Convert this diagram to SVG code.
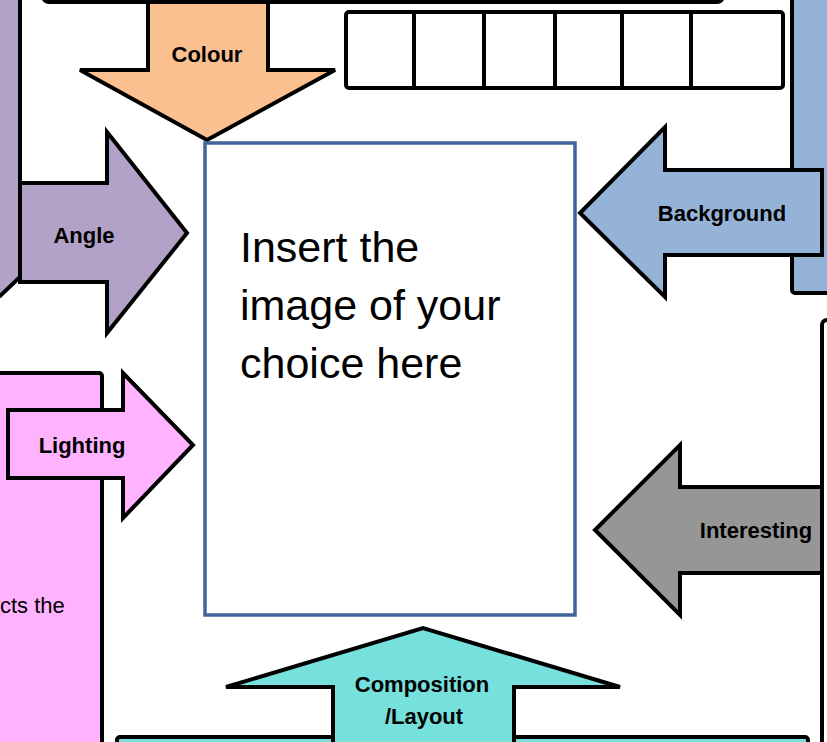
<svg xmlns="http://www.w3.org/2000/svg" width="827" height="742" viewBox="0 0 827 742">
<style>
.shape{stroke:#000;stroke-width:4;stroke-linejoin:miter}
.lbl{font-family:"Liberation Sans",Arial,sans-serif;font-weight:bold;font-size:22px;fill:#000;text-anchor:middle}
.purple{fill:#b3a2c7}.orange{fill:#fac090}.blue{fill:#95b3d7}.pink{fill:#ffb3ff}.gray{fill:#969696}.teal{fill:#75e0dc}
</style>
<rect width="827" height="742" fill="#fff"/>
<g id="purple-box"><polygon class="shape purple" points="-10,-10 20,-10 20,277 0,296 -10,296"/></g>
<g id="blue-box"><rect class="shape blue" x="792" y="-20" width="60" height="313" rx="3"/></g>
<g id="pink-box"><rect class="shape pink" x="-10" y="373" width="112" height="400" rx="3"/>
<text x="0" y="613" font-family="Liberation Sans, Arial, sans-serif" font-size="22px" fill="#000">cts the</text></g>
<g id="right-box"><rect class="shape" fill="#fff" x="822" y="320" width="40" height="500" rx="5"/></g>
<g id="teal-box"><rect class="shape teal" x="117" y="737" width="691" height="50" rx="3"/></g>
<g id="colour-arrow"><polygon class="shape orange" points="148,-5 268,-5 268,70 335,70 207,140 80,70 148,70"/><text class="lbl" x="207" y="62">Colour</text></g>
<g id="top-box"><rect class="shape" fill="#fff" x="43" y="-60" width="680" height="62" rx="6"/></g>
<g id="grid"><rect class="shape" fill="#fff" x="346" y="12" width="437" height="76" rx="3"/>
<path class="shape" fill="none" d="M414 12V88M484 12V88M555 12V88M622 12V88M691 12V88"/></g>
<g id="angle-arrow"><polygon class="shape purple" points="20,183 107,183 107,132 187,233 107,333 107,282 20,282"/><text class="lbl" x="84" y="243">Angle</text></g>
<g id="background-arrow"><polygon class="shape blue" points="822,170 665,170 665,127 580,213 665,297 665,255 822,255"/><text class="lbl" x="722" y="221">Background</text></g>
<g id="lighting-arrow"><polygon class="shape pink" points="8,410 123,410 123,373 193,445 123,518 123,478 8,478"/><text class="lbl" x="82" y="453">Lighting</text></g>
<g id="interesting-arrow"><polygon class="shape gray" points="822,487 680,487 680,445 595,530 680,615 680,573 822,573"/><text class="lbl" x="756" y="538">Interesting</text></g>
<g id="composition-arrow"><polygon class="shape teal" points="333,760 333,687 226,687 423,628 620,687 514,687 514,760"/><text class="lbl" x="422" y="692">Composition</text><text class="lbl" x="424" y="724">/Layout</text></g>
<g id="image-box"><rect x="205" y="143" width="370" height="472" fill="#fff" stroke="#41659a" stroke-width="3.5"/>
<text font-family="Liberation Sans, Arial, sans-serif" font-size="43px" fill="#000"><tspan x="240" y="262">Insert the</tspan><tspan x="240" y="320">image of your</tspan><tspan x="240" y="378">choice here</tspan></text></g>
<g id="connectors"/>
</svg>
